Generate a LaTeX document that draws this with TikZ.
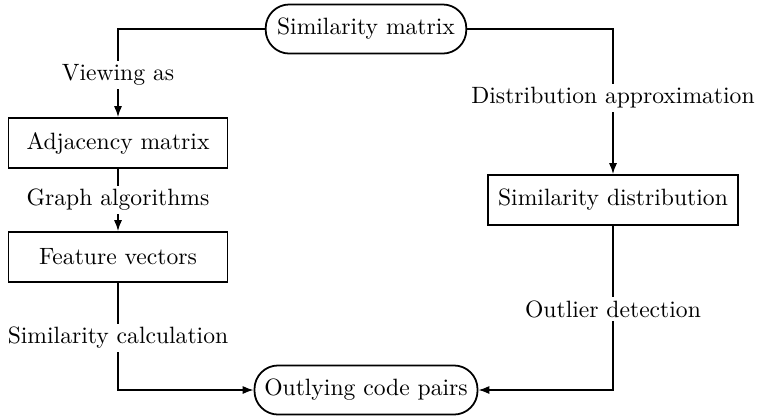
\documentclass[tikz,border=0pt]{standalone}
\usetikzlibrary{arrows.meta}
\begin{document}
\begin{tikzpicture}[x=0.4237pt,y=-0.4237pt,
  box/.style={draw,line width=0.75pt,rectangle,inner sep=2pt,minimum height=21.2pt},
  pill/.style={draw,line width=0.75pt,rectangle,rounded corners=10pt,inner sep=2pt,minimum height=20.8pt},
  lbl/.style={inner xsep=1pt,inner ysep=1.3pt},
  conn/.style={line width=0.65pt},
  arr/.style={conn,-{Latex[length=4.6pt,width=3.4pt]}}]
\useasboundingbox (0,0) rectangle (757,418);
% main nodes
\node[pill,minimum width=85pt] (top) at (366,29) {Similarity matrix};
\node[box,minimum width=92.8pt] (adj) at (118,143) {Adjacency matrix};
\node[box,minimum width=92.8pt] (feat) at (118,257) {Feature vectors};
\node[box,minimum width=106pt] (dist) at (613,200) {Similarity distribution};
\node[pill,minimum width=94.5pt] (out) at (366,390) {Outlying code pairs};
% labels
\node[lbl] (view) at (118,75) {Viewing as};
\node[lbl] (graph) at (118,200) {Graph algorithms};
\node[lbl] (simcalc) at (118,338) {Similarity calculation};
\node[lbl] (distapp) at (613,98) {Distribution approximation};
\node[lbl] (outl) at (613,309) {Outlier detection};
% connectors
\draw[conn] (top.west) -| (view.north);
\draw[arr] (view.south) -- (adj.north);
\draw[conn] (adj.south) -- (graph.north);
\draw[arr] (graph.south) -- (feat.north);
\draw[conn] (feat.south) -- (simcalc.north);
\draw[arr] (simcalc.south) |- (out.west);
\draw[conn] (top.east) -| (distapp.north);
\draw[arr] (distapp.south) -- (dist.north);
\draw[conn] (dist.south) -- (outl.north);
\draw[arr] (outl.south) |- (out.east);
\end{tikzpicture}
\end{document}
